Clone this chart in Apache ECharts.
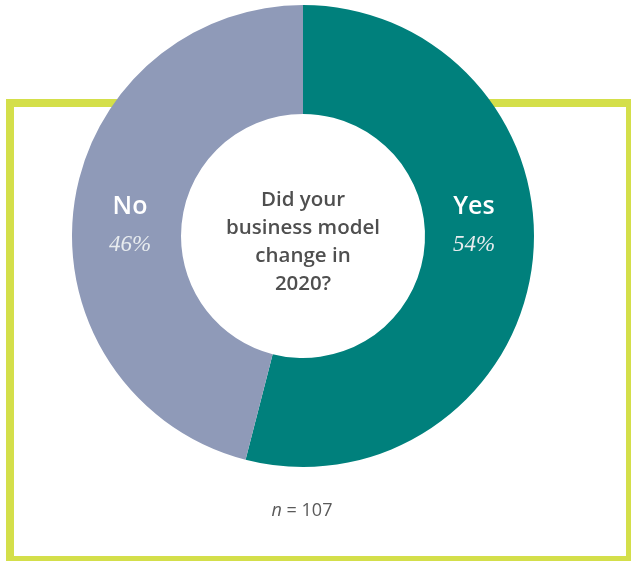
<!DOCTYPE html>
<html>
<head>
<meta charset="utf-8">
<script src="https://cdn.jsdelivr.net/npm/echarts@6/dist/echarts.min.js"></script>
<style>
  html, body { margin: 0; padding: 0; background: #fff; }
  #chart { width: 631px; height: 561px; }
</style>
</head>
<body>
<div id="chart"></div>
<script>
// answers and their share of respondents
const answers = ['Yes', 'No']
const shares = [54, 46]
const colors = ['#00807c', '#8f9ab8']
const question = 'Did your\nbusiness model\nchange in\n2020?'
const sampleSize = 107

const cx = 303
const cy = 236

let chart = echarts.init(document.getElementById('chart'))

// label spots, one for each answer (yes on the right, no on the left)
const labelX = [474, 130]

let labelTexts = answers.map((name, i) => ({
  type: 'text',
  x: labelX[i],
  y: 225,
  z: 10,
  style: {
    text: `{a|${name}}\n{b|${shares[i]}%}`,
    align: 'center',
    verticalAlign: 'middle',
    fill: '#fff',
    rich: {
      a: { fontFamily: 'Open Sans', fontWeight: 600, fontSize: 25, lineHeight: 40, fill: '#fff' },
      b: { fontFamily: 'Liberation Serif', fontStyle: 'italic', fontSize: 23, lineHeight: 36, fill: '#e8ecef' }
    }
  }
}))

let option = {
  animation: false,
  graphic: [
    {
      type: 'rect',
      z: 0,
      shape: { x: 10, y: 103, width: 620, height: 457 },
      style: { fill: 'none', stroke: '#d4df4a', lineWidth: 8 }
    },
    {
      type: 'text',
      x: cx,
      y: cy + 6,
      z: 10,
      style: {
        text: question,
        align: 'center',
        verticalAlign: 'middle',
        fontFamily: 'Open Sans',
        fontWeight: 600,
        fontSize: 20.5,
        lineHeight: 28,
        fill: '#4f4f4f'
      }
    },
    {
      type: 'text',
      x: 302,
      y: 511,
      z: 10,
      style: {
        text: `{i|n} = ${sampleSize}`,
        align: 'center',
        verticalAlign: 'middle',
        fontFamily: 'Open Sans',
        fontSize: 18,
        fill: '#5a5a5a',
        rich: {
          i: { fontFamily: 'Open Sans', fontStyle: 'italic', fontSize: 18, fill: '#5a5a5a' }
        }
      }
    },
    ...labelTexts
  ],
  series: [{
    type: 'pie',
    center: [cx, cy],
    radius: [122, 231],
    startAngle: 90,
    clockwise: true,
    z: 5,
    label: { show: false },
    labelLine: { show: false },
    emphasis: { disabled: true },
    itemStyle: { borderWidth: 0 },
    data: answers.map((name, i) => ({
      name,
      value: shares[i],
      itemStyle: { color: colors[i] }
    }))
  }]
}

chart.setOption(option)
</script>
</body>
</html>
